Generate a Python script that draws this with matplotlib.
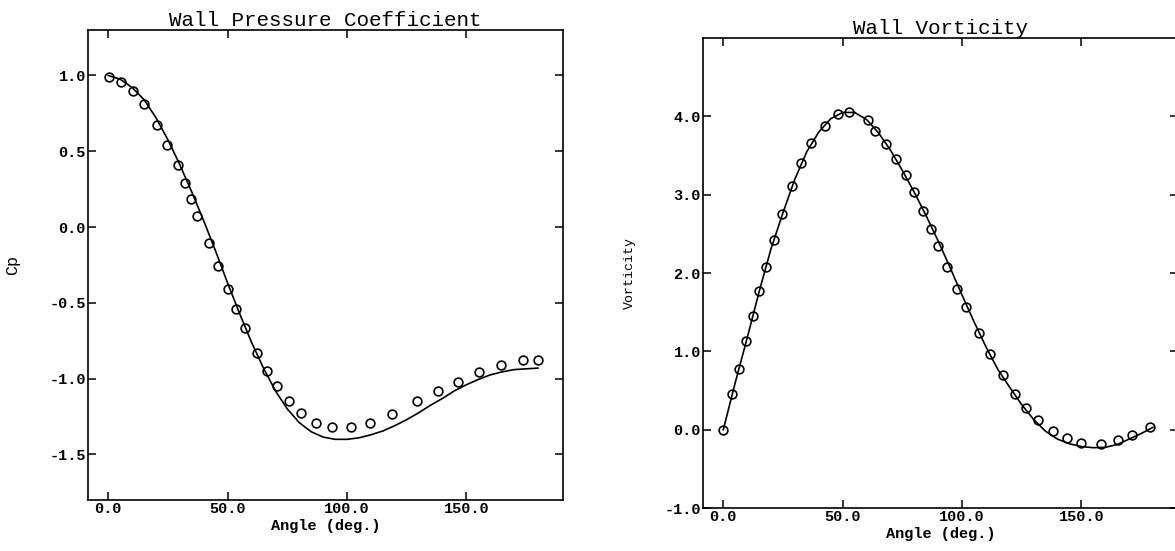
import numpy as np
import matplotlib
matplotlib.use("Agg")
import matplotlib.pyplot as plt
from matplotlib.ticker import FormatStrFormatter

plt.rcParams['font.family'] = ['Liberation Mono', 'DejaVu Sans Mono']

# Wall pressure coefficient : symbols (circles) and solid line
cp_angle = [0.3, 5.4, 10.2, 15.0, 20.2, 24.6, 29.1, 32.1, 34.6, 37.3, 42.2, 46.0,
            50.2, 53.5, 57.4, 62.5, 66.4, 70.6, 75.8, 80.7, 87.1, 93.7, 101.5,
            109.5, 118.7, 129.2, 138.0, 146.5, 155.2, 164.7, 173.8, 180.1]
cp_sym = [0.99, 0.96, 0.895, 0.815, 0.675, 0.54, 0.41, 0.29, 0.185, 0.07, -0.105,
          -0.26, -0.41, -0.54, -0.665, -0.83, -0.95, -1.05, -1.145, -1.225, -1.295,
          -1.32, -1.32, -1.29, -1.23, -1.15, -1.08, -1.02, -0.955, -0.91, -0.88, -0.875]

cp_line_angle = [0, 5, 10, 15, 20, 25, 30, 35, 40, 45, 50, 55, 60, 65, 70, 75, 80, 85,
                 90, 95, 100, 105, 110, 115, 120, 125, 130, 135, 140, 145, 150, 155,
                 160, 165, 170, 175, 180]
cp_line = [1.00, 0.975, 0.92, 0.84, 0.72, 0.575, 0.41, 0.23, 0.04, -0.16, -0.37,
           -0.57, -0.76, -0.93, -1.08, -1.20, -1.29, -1.35, -1.385, -1.40, -1.40,
           -1.39, -1.37, -1.345, -1.31, -1.27, -1.225, -1.175, -1.13, -1.08, -1.04,
           -1.005, -0.975, -0.955, -0.94, -0.935, -0.93]

# Wall vorticity : symbols (circles) and solid line
vort_angle = [0.0, 3.75, 6.55, 9.6, 12.4, 15.05, 18.0, 21.2, 24.8, 28.7, 32.7, 36.9,
              42.4, 48.2, 52.5, 60.6, 63.7, 68.3, 72.4, 76.6, 79.7, 83.7, 87.1, 89.9,
              93.7, 98.0, 101.7, 107.1, 111.7, 117.1, 122.3, 127.0, 131.9, 138.0,
              143.9, 149.9, 158.4, 165.5, 171.2, 178.8]
vort_sym = [0.0, 0.456, 0.776, 1.131, 1.452, 1.769, 2.078, 2.427, 2.757, 3.107, 3.41,
            3.656, 3.875, 4.03, 4.05, 3.95, 3.81, 3.65, 3.45, 3.25, 3.03, 2.79, 2.56,
            2.35, 2.08, 1.80, 1.56, 1.23, 0.964, 0.697, 0.461, 0.279, 0.119, -0.016,
            -0.107, -0.175, -0.179, -0.135, -0.073, 0.032]

vort_line_angle = [0, 5, 10, 15, 20, 25, 30, 35, 40, 45, 50, 55, 60, 65, 70, 75, 80,
                   85, 90, 95, 100, 105, 110, 115, 120, 125, 130, 135, 140, 145, 150,
                   155, 160, 165, 170, 175, 180]
vort_line = [0.0, 0.60, 1.17, 1.76, 2.31, 2.77, 3.20, 3.55, 3.80, 3.97, 4.05, 4.05,
             3.96, 3.79, 3.57, 3.31, 3.03, 2.73, 2.41, 2.07, 1.72, 1.38, 1.06, 0.77,
             0.54, 0.32, 0.13, -0.02, -0.12, -0.18, -0.215, -0.23, -0.225, -0.19,
             -0.12, -0.05, 0.03]

fig = plt.figure(figsize=(11.75, 5.51), dpi=100)
ax1 = fig.add_axes([0.0749, 0.0926, 0.4043, 0.853])
ax2 = fig.add_axes([0.5983, 0.078, 0.4043, 0.853])


def style(ax, title, ylabel, ylabel_size):
    ax.set_xlim(-8.5, 190.5)
    ax.set_xticks([0, 50, 100, 150])
    ax.xaxis.set_major_formatter(FormatStrFormatter('%.1f'))
    ax.yaxis.set_major_formatter(FormatStrFormatter('%.1f'))
    ax.tick_params(axis='both', which='both', direction='in', top=True, right=True,
                   length=6, width=1.1, labelsize=11, pad=1.5)
    for lab in ax.get_xticklabels() + ax.get_yticklabels():
        lab.set_fontweight('bold')
    for s in ax.spines.values():
        s.set_linewidth(1.2)
    ax.set_title(title, fontsize=15, pad=1)
    ax.set_xlabel("Angle (deg.)", fontsize=11, fontweight='bold', labelpad=2)
    ax.set_ylabel(ylabel, fontsize=ylabel_size)
    ax.yaxis.set_label_coords(-0.142, 0.5)


# pressure coefficient
ax1.plot(cp_line_angle, cp_line, color='black', lw=1.2)
ax1.plot(cp_angle, cp_sym, 'o', mfc='none', mec='black', mew=1.2, ms=6.3)
ax1.set_ylim(-1.8, 1.3)
ax1.set_yticks([-1.5, -1.0, -0.5, 0.0, 0.5, 1.0])
style(ax1, "Wall Pressure Coefficient", "Cp", 12)

# vorticity
ax2.plot(vort_line_angle, vort_line, color='black', lw=1.2)
ax2.plot(vort_angle, vort_sym, 'o', mfc='none', mec='black', mew=1.2, ms=6.3)
ax2.set_ylim(-1.0, 5.0)
ax2.set_yticks([-1.0, 0.0, 1.0, 2.0, 3.0, 4.0])
style(ax2, "Wall Vorticity", "Vorticity", 9.5)

fig.savefig("out.png", dpi=100)
